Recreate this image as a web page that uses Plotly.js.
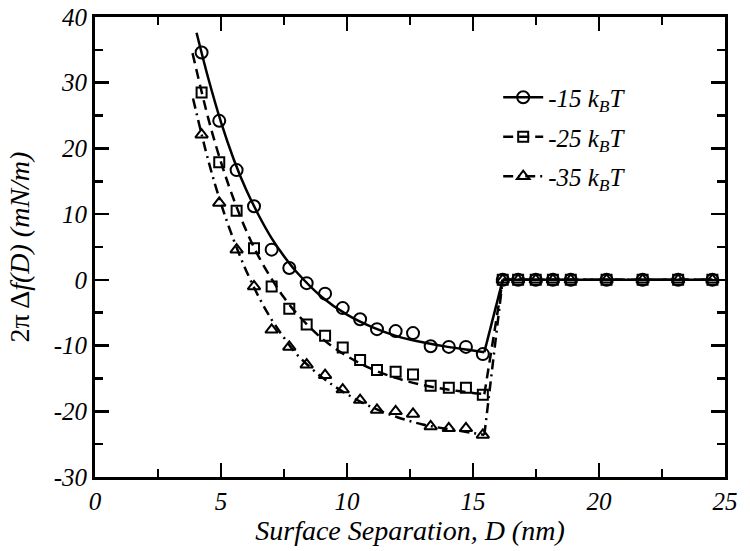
<!DOCTYPE html>
<html>
<head>
<meta charset="utf-8">
<script src="https://cdn.plot.ly/plotly-3.0.1.min.js"></script>
<style>
html,body{margin:0;padding:0;background:#fff;}
#chart{width:750px;height:551px;}
</style>
</head>
<body>
<div id="chart"></div>
<script>
// ---- data ----
const seriesNames = ['-15 k<sub>B</sub>T', '-25 k<sub>B</sub>T', '-35 k<sub>B</sub>T'];

// measured points (markers)
const xMarks = [4.23, 4.93, 5.62, 6.31, 7.01, 7.71, 8.40, 9.13, 9.83, 10.52, 11.19, 11.93, 12.62, 13.32, 14.04, 14.72, 15.39];
const circleMarks = [34.6, 24.2, 16.7, 11.2, 4.6, 1.8, -0.5, -2.1, -4.3, -6.0, -7.5, -7.8, -8.1, -10.1, -10.2, -10.2, -11.3];
const squareMarks = [28.5, 17.9, 10.5, 4.8, -1.0, -4.4, -6.8, -8.5, -10.3, -12.2, -13.7, -14.0, -14.4, -16.1, -16.4, -16.4, -17.5];
const triangleMarks = [22.1, 11.7, 4.6, -1.0, -7.6, -10.2, -12.9, -14.5, -16.7, -18.3, -19.8, -20.0, -20.4, -22.3, -22.6, -22.6, -23.6];

// plateau beyond the jump
const xPlateau = [16.18, 16.79, 17.49, 18.17, 18.88, 20.3, 21.73, 23.14, 24.5];
const yPlateau = [0, 0, 0, 0, 0, 0, 0, 0, 0];

// smooth curves drawn through the points
const xFitCircle = [4.03, 4.5, 5, 5.5, 6, 6.5, 7, 7.5, 8, 9, 10, 11, 12, 13, 14, 15, 15.45];
const yFitCircle = [37.6, 30.6, 24.0, 18.4, 13.7, 9.8, 6.4, 3.6, 1.2, -2.6, -5.3, -7.2, -8.6, -9.5, -10.2, -10.75, -11.0];
const xFitSquare = [3.87, 4.5, 5, 5.5, 6, 6.5, 7, 7.5, 8, 9, 10, 11, 12, 13, 14, 15, 15.45];
const yFitSquare = [34.5, 24.5, 17.9, 12.3, 7.5, 3.5, 0.2, -2.7, -5.1, -8.9, -11.6, -13.6, -15.0, -16.0, -16.7, -17.2, -17.4];
const xFitTriangle = [3.89, 4.5, 5, 5.5, 6, 6.5, 7, 7.5, 8, 9, 10, 11, 12, 13, 14, 15, 15.45];
const yFitTriangle = [27.6, 18.1, 11.6, 6.1, 1.4, -2.6, -6.0, -8.8, -11.3, -14.8, -17.4, -19.4, -20.9, -22.0, -22.7, -23.3, -23.6];

// tick labels
const xTickVals = [0, 5, 10, 15, 20, 25];
const xTickText = ['0', '5', '10', '15', '20', '25'];
const yTickVals = [-30, -20, -10, 0, 10, 20, 30, 40];
const yTickText = ['-30', '-20', '-10', '0', '10', '20', '30', '40'];

// ---- styles ----
const FONT = 'Liberation Serif, Times New Roman, serif';
const styles = [
  {symbol: 'circle-open', size: 12, dash: 'solid'},
  {symbol: 'square-open', size: 10, dash: '10px,6px'},
  {symbol: 'triangle-up-open', size: 11, dash: '10px,5px,2px,5px'}
];
const fits = [[xFitCircle, yFitCircle], [xFitSquare, yFitSquare], [xFitTriangle, yFitTriangle]];
const marks = [circleMarks, squareMarks, triangleMarks];

const traces = [];
for (let i = 0; i < 3; i++) {
  const st = styles[i];
  const line = {color: '#000', width: 2.5, dash: st.dash};
  const mk = {symbol: st.symbol, size: st.size, color: '#000', line: {color: '#000', width: 2}};
  const fx = fits[i][0], fy = fits[i][1];
  const g = 'g' + i;
  traces.push({x: fx, y: fy, type: 'scatter', mode: 'lines', line: Object.assign({shape: 'spline', smoothing: 1}, line), showlegend: false, legendgroup: g, hoverinfo: 'skip'});
  traces.push({x: [fx[fx.length - 1], xPlateau[0]], y: [fy[fy.length - 1], yPlateau[0]], type: 'scatter', mode: 'lines', line: line, showlegend: false, legendgroup: g, hoverinfo: 'skip'});
  traces.push({x: xPlateau, y: yPlateau, type: 'scatter', mode: 'lines+markers', line: line, marker: mk, name: '<i>' + seriesNames[i] + '</i>', legendgroup: g, showlegend: true});
  traces.push({x: xMarks, y: marks[i], type: 'scatter', mode: 'markers', marker: mk, showlegend: false, legendgroup: g});
}

const axisCommon = {
  showgrid: false, zeroline: false, showline: true, linecolor: '#000', linewidth: 3,
  mirror: 'ticks', ticks: 'inside', ticklen: 14, tickwidth: 2.5, tickcolor: '#000',
  tickfont: {family: FONT, size: 25, color: '#000', style: 'italic'}
};

const layout = {
  width: 750, height: 551,
  margin: {l: 95, r: 25, t: 17, b: 74},
  paper_bgcolor: '#fff', plot_bgcolor: '#fff',
  showlegend: true,
  legend: {
    x: 0.64, y: 0.875, xanchor: 'left', yanchor: 'top',
    bgcolor: 'rgba(0,0,0,0)', borderwidth: 0,
    font: {family: FONT, size: 25, color: '#000', style: 'italic'},
    traceorder: 'grouped', tracegroupgap: 4, itemwidth: 40
  },
  xaxis: Object.assign({}, axisCommon, {
    range: [0, 25], tickmode: 'array', tickvals: xTickVals, ticktext: xTickText,
    minor: {dtick: 2.5, ticks: 'inside', ticklen: 8, tickwidth: 2.5, tickcolor: '#000', showgrid: false},
    title: {text: '<i>Surface Separation, D (nm)</i>', font: {family: FONT, size: 28, color: '#000'}, standoff: 6}
  }),
  yaxis: Object.assign({}, axisCommon, {
    range: [-30, 40], tickmode: 'array', tickvals: yTickVals, ticktext: yTickText,
    minor: {dtick: 5, ticks: 'inside', ticklen: 8, tickwidth: 2.5, tickcolor: '#000', showgrid: false},
    title: {text: '2π Δ<i>f(D) (mN/m)</i>', font: {family: FONT, size: 28, color: '#000'}, standoff: 16}
  })
};

function italicTicks() {
  document.querySelectorAll('#chart .xtick text, #chart .ytick text, #chart text.xtick, #chart text.ytick').forEach(function (t) {
    t.style.setProperty('font-style', 'italic', 'important');
    t.setAttribute('font-style', 'italic');
  });
}

Plotly.newPlot('chart', traces, layout, {displayModeBar: false, staticPlot: true}).then(function (gd) {
  italicTicks();
  gd.on('plotly_afterplot', italicTicks);
});
</script>
</body>
</html>
